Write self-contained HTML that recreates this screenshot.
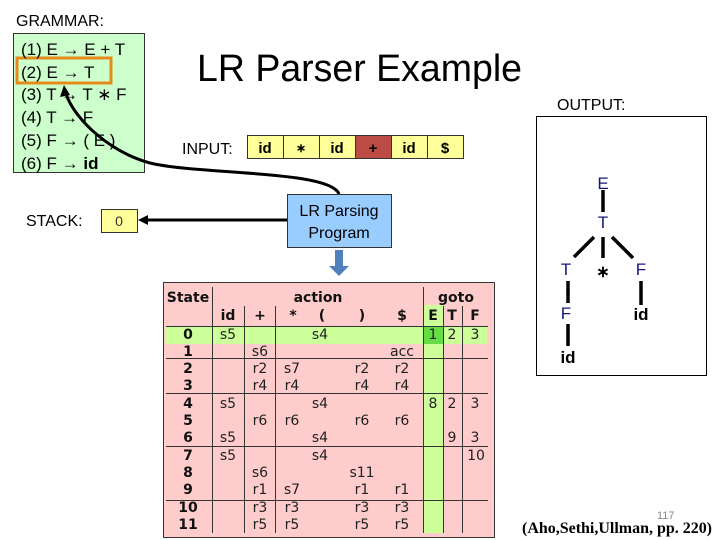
<!DOCTYPE html>
<html><head><meta charset="utf-8"><style>
html,body{margin:0;padding:0;background:#fff;width:720px;height:540px;overflow:hidden}
svg{display:block}
text{font-family:"Liberation Sans",Arial,sans-serif}
.t{font-family:"DejaVu Sans","Liberation Sans",sans-serif;font-size:14px;fill:#222}
.b{font-family:"DejaVu Sans","Liberation Sans",sans-serif;font-size:14px;font-weight:bold;fill:#111}
</style></head><body>
<svg width="720" height="540" viewBox="0 0 720 540" xmlns="http://www.w3.org/2000/svg">
<text x="16" y="26" font-size="16">GRAMMAR:</text>
<rect x="13.5" y="33.5" width="131" height="139" fill="#ccffcc" stroke="#333" stroke-width="1"/>
<rect x="17" y="58" width="94" height="25" fill="none" stroke="#e48b1c" stroke-width="3"/>
<g font-size="17" fill="#000">
<text x="21" y="55">(1) E  → E + T</text>
<text x="21" y="78">(2) E → T</text>
<text x="21" y="100">(3) T  → T ∗ F</text>
<text x="21" y="123">(4) T   → F</text>
<text x="21" y="146">(5) F   → ( E )</text>
<text x="21" y="169">(6) F   → <tspan font-weight="bold">id</tspan></text>
</g>
<text x="197" y="81" font-size="38" textLength="325" lengthAdjust="spacingAndGlyphs">LR Parser Example</text>
<text x="182" y="154" font-size="16">INPUT:</text>
<g stroke="#333" stroke-width="1">
<rect x="247.5" y="135.5" width="36" height="23" fill="#ffff99"/>
<rect x="283.5" y="135.5" width="36" height="23" fill="#ffff99"/>
<rect x="319.5" y="135.5" width="36" height="23" fill="#ffff99"/>
<rect x="355.5" y="135.5" width="36" height="23" fill="#bd4b45"/>
<rect x="391.5" y="135.5" width="36" height="23" fill="#ffff99"/>
<rect x="427.5" y="135.5" width="36" height="23" fill="#ffff99"/>
</g>
<g font-size="15" font-weight="bold" text-anchor="middle">
<text x="265" y="153">id</text><text x="301" y="152" font-size="12">∗</text><text x="337" y="153">id</text>
<text x="373" y="153">+</text><text x="409" y="153">id</text><text x="445" y="153">$</text>
</g>
<text x="26" y="226" font-size="16">STACK:</text>
<rect x="101.5" y="209.5" width="36" height="23" fill="#ffff99" stroke="#333"/>
<text x="119" y="226" font-size="14" text-anchor="middle" fill="#333">0</text>
<path d="M287,220 L146,220" stroke="#000" stroke-width="3" fill="none"/>
<polygon points="138,220 148,215 148,225" fill="#000"/>
<path d="M339,194 C330,170 200,175 150,163 C110,152 75,120 66,94" stroke="#000" stroke-width="3" fill="none"/>
<polygon points="64,85 60,97 70,95" fill="#000"/>
<rect x="287.5" y="194.5" width="104" height="53" fill="#99ccff" stroke="#333"/>
<text x="339" y="216" font-size="16" text-anchor="middle">LR Parsing</text>
<text x="339" y="238" font-size="16" text-anchor="middle">Program</text>
<rect x="335" y="250" width="8" height="18" fill="#4f81bd"/>
<polygon points="329,266 349,266 339,276" fill="#4f81bd"/>
<rect x="163.5" y="282.5" width="331" height="255" fill="#ffcccc" stroke="#333"/>
<rect x="165" y="327" width="322" height="17" fill="#ccff99"/>
<rect x="423" y="305" width="20" height="228" fill="#ccff99"/>
<rect x="423" y="327" width="20" height="17" fill="#66dd44"/>
<g stroke="#333" stroke-width="1">
<line x1="212.5" y1="287" x2="212.5" y2="533"/>
<line x1="244.5" y1="306" x2="244.5" y2="533"/>
<line x1="275.5" y1="306" x2="275.5" y2="533"/>
<line x1="423.5" y1="287" x2="423.5" y2="533"/>
<line x1="443.5" y1="306" x2="443.5" y2="533"/>
<line x1="462.5" y1="306" x2="462.5" y2="533"/>
<line x1="166" y1="326.5" x2="488" y2="326.5"/>
<line x1="166" y1="358.5" x2="488" y2="358.5"/>
<line x1="166" y1="393.5" x2="488" y2="393.5"/>
<line x1="166" y1="446.5" x2="488" y2="446.5"/>
<line x1="166" y1="500.5" x2="488" y2="500.5"/>
</g>
<g text-anchor="middle">
<text class="b" x="188" y="302">State</text>
<text class="b" x="318" y="302">action</text>
<text class="b" x="456" y="302">goto</text>
<text class="b" x="228" y="320">id</text><text class="b" x="260" y="320">+</text><text class="b" x="293" y="320">*</text>
<text class="b" x="322" y="320">(</text><text class="b" x="362" y="320">)</text><text class="b" x="402" y="320">$</text>
<text class="b" x="433" y="320">E</text><text class="b" x="452" y="320">T</text><text class="b" x="475" y="320">F</text>
<text class="b" x="188" y="339">0</text><text class="b" x="188" y="356">1</text><text class="b" x="188" y="373">2</text>
<text class="b" x="188" y="390">3</text><text class="b" x="188" y="408">4</text><text class="b" x="188" y="425">5</text>
<text class="b" x="188" y="442">6</text><text class="b" x="188" y="460">7</text><text class="b" x="188" y="477">8</text>
<text class="b" x="188" y="494">9</text><text class="b" x="188" y="512">10</text><text class="b" x="188" y="529">11</text>
<text class="t" x="228" y="339">s5</text><text class="t" x="320" y="339">s4</text>
<text class="t" x="433" y="339">1</text><text class="t" x="452" y="339">2</text><text class="t" x="475" y="339">3</text>
<text class="t" x="260" y="356">s6</text><text class="t" x="402" y="356">acc</text>
<text class="t" x="260" y="373">r2</text><text class="t" x="292" y="373">s7</text><text class="t" x="362" y="373">r2</text><text class="t" x="402" y="373">r2</text>
<text class="t" x="260" y="390">r4</text><text class="t" x="292" y="390">r4</text><text class="t" x="362" y="390">r4</text><text class="t" x="402" y="390">r4</text>
<text class="t" x="228" y="408">s5</text><text class="t" x="320" y="408">s4</text>
<text class="t" x="433" y="408">8</text><text class="t" x="452" y="408">2</text><text class="t" x="475" y="408">3</text>
<text class="t" x="260" y="425">r6</text><text class="t" x="292" y="425">r6</text><text class="t" x="362" y="425">r6</text><text class="t" x="402" y="425">r6</text>
<text class="t" x="228" y="442">s5</text><text class="t" x="320" y="442">s4</text><text class="t" x="452" y="442">9</text><text class="t" x="475" y="442">3</text>
<text class="t" x="228" y="460">s5</text><text class="t" x="320" y="460">s4</text><text class="t" x="476" y="460">10</text>
<text class="t" x="260" y="477">s6</text><text class="t" x="362" y="477">s11</text>
<text class="t" x="260" y="494">r1</text><text class="t" x="292" y="494">s7</text><text class="t" x="362" y="494">r1</text><text class="t" x="402" y="494">r1</text>
<text class="t" x="260" y="512">r3</text><text class="t" x="292" y="512">r3</text><text class="t" x="362" y="512">r3</text><text class="t" x="402" y="512">r3</text>
<text class="t" x="260" y="529">r5</text><text class="t" x="292" y="529">r5</text><text class="t" x="362" y="529">r5</text><text class="t" x="402" y="529">r5</text>
</g>
<text x="557" y="110" font-size="16">OUTPUT:</text>
<rect x="536.5" y="116.5" width="170" height="259" fill="#fff" stroke="#000"/>
<g stroke="#000" stroke-width="3.5">
<line x1="603" y1="190" x2="603" y2="212"/>
<line x1="594" y1="237" x2="574" y2="257"/>
<line x1="603" y1="237" x2="603" y2="258"/>
<line x1="612" y1="237" x2="633" y2="258"/>
<line x1="568" y1="281" x2="568" y2="303"/>
<line x1="568" y1="324" x2="568" y2="346"/>
<line x1="641" y1="281" x2="641" y2="305"/>
</g>
<g font-size="17" text-anchor="middle" fill="#15157a">
<text x="603" y="189">E</text><text x="603" y="228">T</text>
<text x="566" y="275">T</text><text x="641" y="275">F</text><text x="566" y="319">F</text>
</g>
<text x="603" y="277" font-size="16" font-weight="bold" text-anchor="middle">∗</text>
<text x="641" y="320" font-size="17" font-weight="bold" text-anchor="middle">id</text>
<text x="568" y="363" font-size="17" font-weight="bold" text-anchor="middle">id</text>
<text x="657" y="519" font-size="11" fill="#888">117</text>
<text x="522" y="533" font-size="16" font-weight="bold" textLength="190" lengthAdjust="spacingAndGlyphs" style="font-family:'Liberation Serif',serif">(Aho,Sethi,Ullman, pp. 220)</text>
</svg>
</body></html>
